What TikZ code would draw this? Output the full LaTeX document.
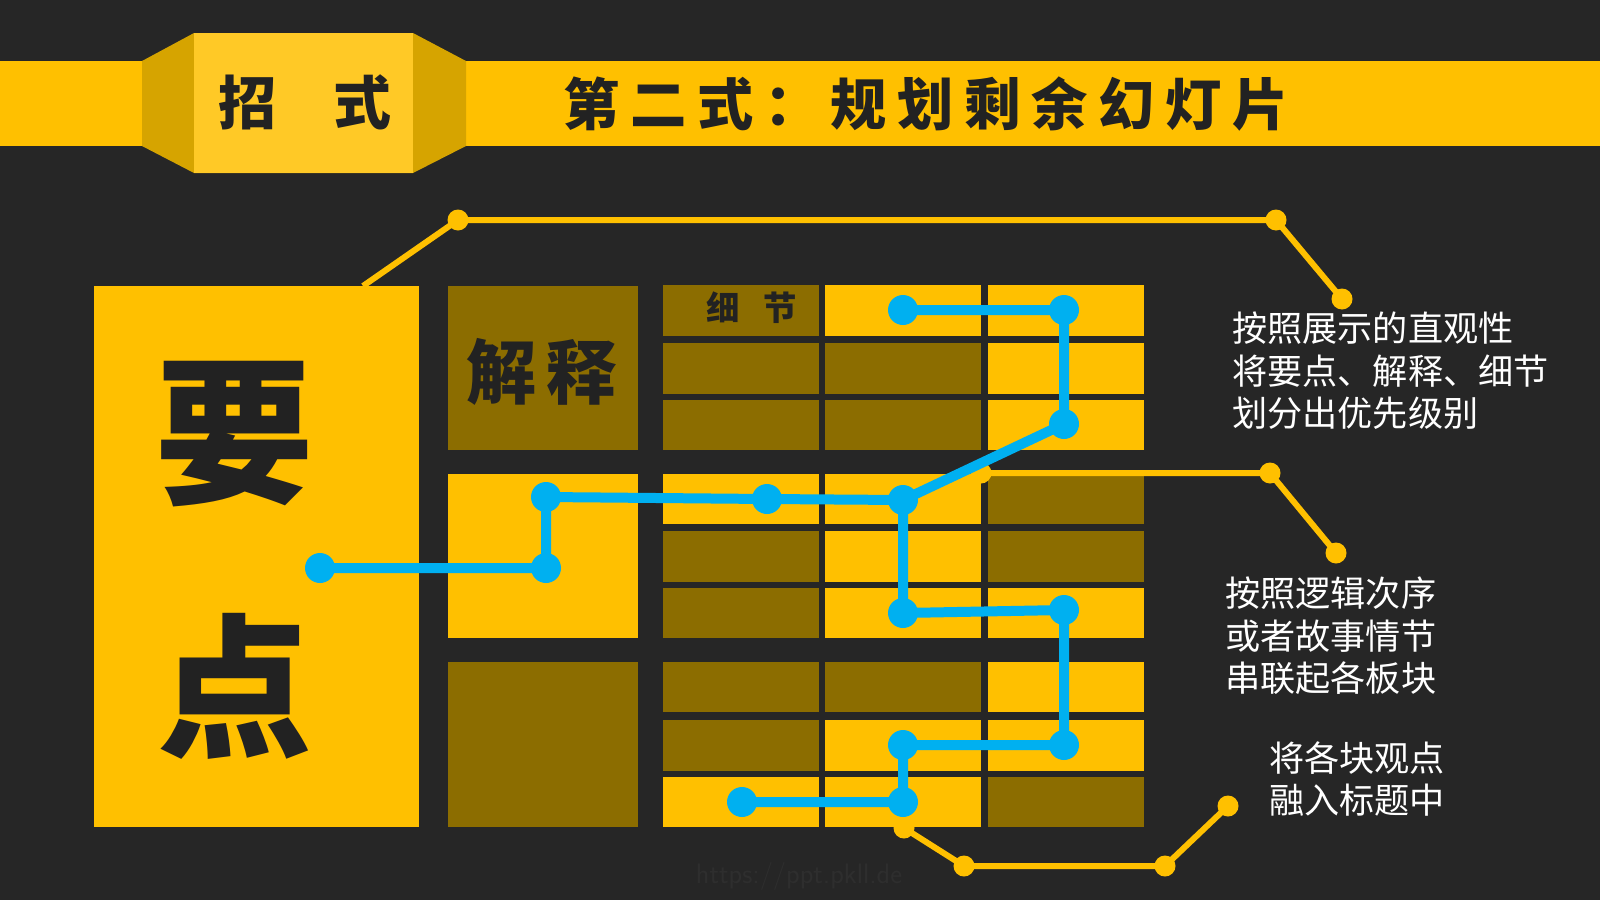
\documentclass[tikz,border=0pt]{standalone}
\usepackage{fontspec}
\newfontfamily\cjk{Noto Sans CJK SC}
\usepackage{xcolor}
\definecolor{bg}{HTML}{262626}
\definecolor{gold}{HTML}{FFC000}
\definecolor{goldlight}{HTML}{FFC926}
\definecolor{golddark}{HTML}{D6A400}
\definecolor{olive}{HTML}{8C6D00}
\definecolor{sky}{HTML}{00B0F0}
\definecolor{ink}{HTML}{222222}
\definecolor{wm}{HTML}{2E2E2E}
\tikzset{
  bline/.style={draw=sky, line width=0.2cm, line join=round, line cap=round},
  yline/.style={draw=gold, line width=0.12cm, line join=round},
  bdot/.style={circle, fill=sky, minimum size=0.6cm, inner sep=0pt},
  ydot/.style={circle, fill=gold, minimum size=0.42cm, inner sep=0pt},
  wtext/.style={text=white, align=left, inner sep=0pt, font=\cjk\fontsize{20}{24.2}\selectfont},
  brush/.style={text=ink, inner sep=0pt},
}
\begin{document}
\begin{tikzpicture}[x=0.02cm, y=-0.02cm]
\useasboundingbox (0,0) rectangle (1600,900);
\fill[bg] (0,0) rectangle (1600,900);
% title band
\fill[gold] (0,61) rectangle (1600,146);
\fill[golddark] (142,61) -- (194,33) -- (413,33) -- (466,61) -- (466,146) -- (413,173) -- (194,173) -- (142,146) -- cycle;
\fill[goldlight] (194,33) rectangle (413,173);
\node[brush, font=\cjk\bfseries\fontsize{33}{33}\selectfont] (zs) at (305,102) {招\hspace{1em}式};
\node[brush, font=\cjk\bfseries\fontsize{32}{32}\selectfont\addfontfeature{LetterSpace=19}] (title) at (926,104) {第二式：规划剩余幻灯片};
% big box
\fill[gold] (94,286) rectangle (419,827);
\node[brush, font=\cjk\bfseries\fontsize{90}{90}\selectfont] (yao) at (235,434) {要};
\node[brush, font=\cjk\bfseries\fontsize{88}{88}\selectfont] (dian) at (235,686) {点};
% column A
\fill[olive] (448,286) rectangle (638,450);
\fill[gold] (448,474) rectangle (638,638);
\fill[olive] (448,662) rectangle (638,827);
\node[brush, font=\cjk\bfseries\fontsize{40}{40}\selectfont\addfontfeature{LetterSpace=14}] (jieshi) at (542,372) {解释};
% grid columns B C D
\foreach \ya/\yb/\cb/\cc/\cd in {
  285/336/olive/gold/gold,
  343/394/olive/olive/gold,
  400/450/olive/olive/gold,
  474/524/gold/gold/olive,
  531/582/olive/gold/olive,
  588/638/olive/gold/gold,
  662/712/olive/olive/gold,
  720/771/olive/gold/gold,
  777/827/gold/gold/olive}{
  \fill[\cb] (663,\ya) rectangle (819,\yb);
  \fill[\cc] (825,\ya) rectangle (981,\yb);
  \fill[\cd] (988,\ya) rectangle (1144,\yb);
}
\node[brush, font=\cjk\bfseries\fontsize{19}{19}\selectfont] (xijie) at (752,308) {细\hspace{0.7em}节};
% callouts
\coordinate (a0) at (363,286);
\coordinate (a1) at (458,220);
\coordinate (a2) at (1276,220);
\coordinate (a3) at (1342,299);
\coordinate (b1) at (981,473);
\coordinate (b2) at (1270,473);
\coordinate (b3) at (1336,553);
\coordinate (d1) at (904,828);
\coordinate (d2) at (964,866);
\coordinate (d3) at (1165,866);
\coordinate (d4) at (1228,806);
\draw[yline] (a0) -- (a1) -- (a2) -- (a3);
\draw[yline] (b1) -- (b2) -- (b3);
\draw[yline] (d1) -- (d2) -- (d3) -- (d4);
\foreach \p in {a1,a2,a3,b1,b2,b3,d1,d2,d3,d4} \node[ydot] at (\p) {};
% blue path
\coordinate (p10) at (320,568);
\coordinate (p9) at (546,568);
\coordinate (p8) at (546,497);
\coordinate (p5) at (767,499);
\coordinate (p4) at (903,500);
\coordinate (p3) at (1064,424);
\coordinate (p2) at (1064,310);
\coordinate (p1) at (903,310);
\coordinate (p6) at (903,613);
\coordinate (p7) at (1064,610);
\coordinate (p11) at (1064,745);
\coordinate (p12) at (903,745);
\coordinate (p13) at (903,802);
\coordinate (p14) at (742,802);
\draw[bline] (p10) -- (p9) -- (p8) -- (p5) -- (p4) -- (p3) -- (p2) -- (p1);
\draw[bline] (p4) -- (p6) -- (p7) -- (p11) -- (p12) -- (p13) -- (p14);
\foreach \p in {p1,p2,p3,p4,p5,p6,p7,p8,p9,p10,p11,p12,p13,p14} \node[bdot] at (\p) {};
% texts
\node[wtext, anchor=west] (t1) at (1232,371) {按照展示的直观性\\将要点、解释、细节\\划分出优先级别};
\node[wtext, anchor=west] (t2) at (1225,636) {按照逻辑次序\\或者故事情节\\串联起各板块};
\node[wtext, anchor=west] (t3) at (1269,779) {将各块观点\\融入标题中};
\node[text=wm, font=\fontsize{16}{16}\selectfont\sffamily] (wmk) at (799,876) {https://ppt.pkll.de};
\end{tikzpicture}
\end{document}
